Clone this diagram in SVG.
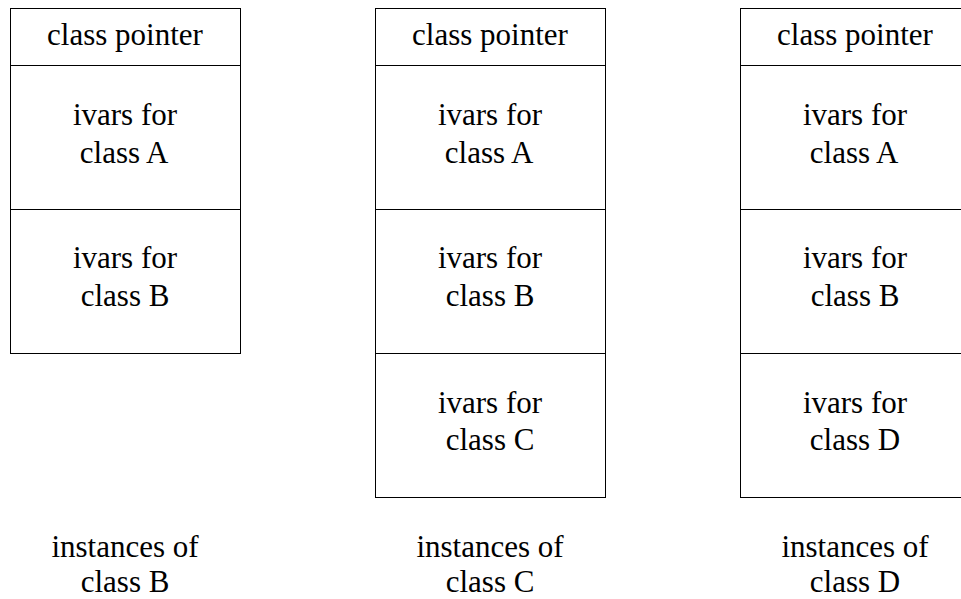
<svg xmlns="http://www.w3.org/2000/svg" width="961" height="599" viewBox="0 0 961 599">
<rect width="961" height="599" fill="#fff"/>
<g id="objB">
<g fill="#fff" stroke="#000" stroke-width="1">
<rect x="10.5" y="8.5" width="230" height="57"/>
<rect x="10.5" y="65.5" width="230" height="144"/>
<rect x="10.5" y="209.5" width="230" height="144"/>
</g>
<text x="47.1" y="45" style="font-family:'Liberation Serif','Times New Roman',serif;font-size:31px">class pointer</text>
<text x="72.9" y="125" style="font-family:'Liberation Serif','Times New Roman',serif;font-size:31px">ivars for</text>
<text x="79.8" y="163" style="font-family:'Liberation Serif','Times New Roman',serif;font-size:31px">class A</text>
<text x="72.9" y="268" style="font-family:'Liberation Serif','Times New Roman',serif;font-size:31px">ivars for</text>
<text x="80.7" y="306" style="font-family:'Liberation Serif','Times New Roman',serif;font-size:31px">class B</text>
<text x="51.4" y="557" style="font-family:'Liberation Serif','Times New Roman',serif;font-size:31px">instances of</text>
<text x="80.7" y="592" style="font-family:'Liberation Serif','Times New Roman',serif;font-size:31px">class B</text>
</g>
<g id="objC">
<g fill="#fff" stroke="#000" stroke-width="1">
<rect x="375.5" y="8.5" width="230" height="57"/>
<rect x="375.5" y="65.5" width="230" height="144"/>
<rect x="375.5" y="209.5" width="230" height="144"/>
<rect x="375.5" y="353.5" width="230" height="144"/>
</g>
<text x="412.1" y="45" style="font-family:'Liberation Serif','Times New Roman',serif;font-size:31px">class pointer</text>
<text x="437.9" y="125" style="font-family:'Liberation Serif','Times New Roman',serif;font-size:31px">ivars for</text>
<text x="444.8" y="163" style="font-family:'Liberation Serif','Times New Roman',serif;font-size:31px">class A</text>
<text x="437.9" y="268" style="font-family:'Liberation Serif','Times New Roman',serif;font-size:31px">ivars for</text>
<text x="445.7" y="306" style="font-family:'Liberation Serif','Times New Roman',serif;font-size:31px">class B</text>
<text x="437.9" y="413" style="font-family:'Liberation Serif','Times New Roman',serif;font-size:31px">ivars for</text>
<text x="445.7" y="450" style="font-family:'Liberation Serif','Times New Roman',serif;font-size:31px">class C</text>
<text x="416.4" y="557" style="font-family:'Liberation Serif','Times New Roman',serif;font-size:31px">instances of</text>
<text x="445.7" y="592" style="font-family:'Liberation Serif','Times New Roman',serif;font-size:31px">class C</text>
</g>
<g id="objD">
<g fill="#fff" stroke="#000" stroke-width="1">
<rect x="740.5" y="8.5" width="230" height="57"/>
<rect x="740.5" y="65.5" width="230" height="144"/>
<rect x="740.5" y="209.5" width="230" height="144"/>
<rect x="740.5" y="353.5" width="230" height="144"/>
</g>
<text x="777.1" y="45" style="font-family:'Liberation Serif','Times New Roman',serif;font-size:31px">class pointer</text>
<text x="802.9" y="125" style="font-family:'Liberation Serif','Times New Roman',serif;font-size:31px">ivars for</text>
<text x="809.8" y="163" style="font-family:'Liberation Serif','Times New Roman',serif;font-size:31px">class A</text>
<text x="802.9" y="268" style="font-family:'Liberation Serif','Times New Roman',serif;font-size:31px">ivars for</text>
<text x="810.7" y="306" style="font-family:'Liberation Serif','Times New Roman',serif;font-size:31px">class B</text>
<text x="802.9" y="413" style="font-family:'Liberation Serif','Times New Roman',serif;font-size:31px">ivars for</text>
<text x="809.8" y="450" style="font-family:'Liberation Serif','Times New Roman',serif;font-size:31px">class D</text>
<text x="781.4" y="557" style="font-family:'Liberation Serif','Times New Roman',serif;font-size:31px">instances of</text>
<text x="809.8" y="592" style="font-family:'Liberation Serif','Times New Roman',serif;font-size:31px">class D</text>
</g>
<g id="connectors"/>
</svg>
